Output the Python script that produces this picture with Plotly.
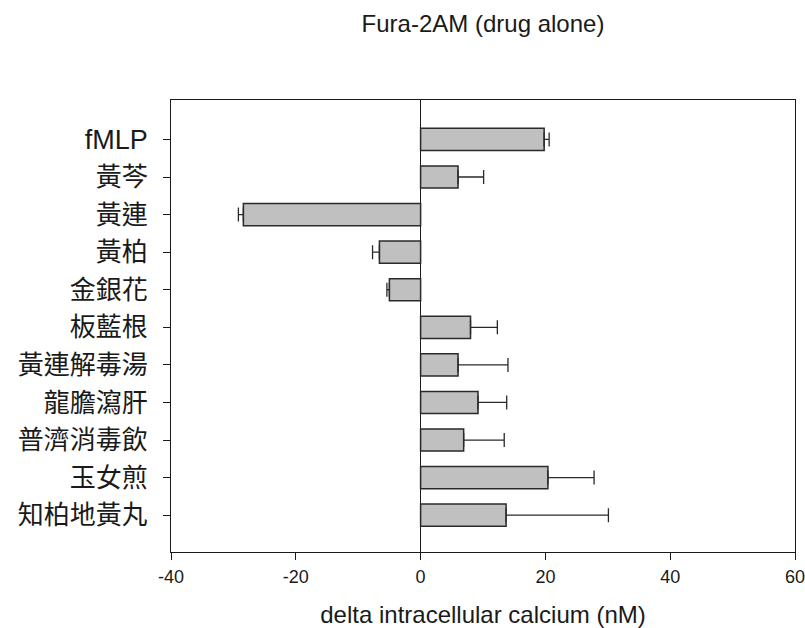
import plotly.graph_objects as go

categories = ["fMLP", "黃芩", "黃連", "黃柏", "金銀花", "板藍根",
              "黃連解毒湯", "龍膽瀉肝", "普濟消毒飲", "玉女煎", "知柏地黃丸"]
values = [19.8, 6.0, -28.4, -6.6, -5.0, 8.0, 6.0, 9.2, 6.9, 20.4, 13.7]
errors = [0.8, 4.1, 0.8, 1.1, 0.4, 4.3, 8.0, 4.6, 6.5, 7.4, 16.4]
x_ticks = [-40, -20, 0, 20, 40, 60]

err_plus = [e if v >= 0 else 0 for v, e in zip(values, errors)]
err_minus = [e if v < 0 else 0 for v, e in zip(values, errors)]

ticktext = []
for c in categories:
    if c == "fMLP":
        ticktext.append('<span style="font-family:Liberation Sans, Arial;font-size:27px">' + c + '</span>')
    else:
        ticktext.append(c)

fig = go.Figure(go.Bar(
    x=values,
    y=categories,
    orientation="h",
    marker=dict(color="#c0c0c0", line=dict(color="#2a2a2a", width=1.5)),
    error_x=dict(type="data", symmetric=False, array=err_plus, arrayminus=err_minus,
                 color="#2a2a2a", thickness=1.3, width=7),
    width=0.59,
))

fig.update_layout(
    width=805, height=628,
    margin=dict(l=171, r=10, t=100, b=76),
    paper_bgcolor="white", plot_bgcolor="white",
    showlegend=False,
    title=dict(text="Fura-2AM (drug alone)", xref="container", x=483 / 805,
               xanchor="center", yref="container", y=1 - 23.5 / 628, yanchor="middle",
               font=dict(family="Liberation Sans, Arial", size=24, color="#1a1a1a")),
    font=dict(family="Liberation Sans, Arial", color="#1a1a1a"),
)

fig.update_xaxes(
    range=[-40, 60], tickvals=x_ticks, ticktext=[str(t) for t in x_ticks],
    showline=True, mirror=True, linecolor="#1a1a1a", linewidth=1.2,
    ticks="outside", ticklen=7, tickcolor="#1a1a1a", tickwidth=1.2,
    showgrid=False, zeroline=True, zerolinecolor="#1a1a1a", zerolinewidth=1.2,
    tickfont=dict(family="Liberation Sans, Arial", size=18, color="#1a1a1a"),
    ticklabelstandoff=1, automargin=False, ticklabeloverflow="allow",
    title=dict(text="delta intracellular calcium (nM)", standoff=23,
               font=dict(family="Liberation Sans, Arial", size=24, color="#1a1a1a")),
)
fig.update_yaxes(
    type="category", categoryorder="array", categoryarray=categories,
    tickvals=categories, ticktext=ticktext,
    range=[10.98, -1.05],
    showline=True, mirror=True, linecolor="#1a1a1a", linewidth=1.2,
    ticks="outside", ticklen=7, tickcolor="#1a1a1a", tickwidth=1.2,
    showgrid=False, automargin=False, ticklabeloverflow="allow",
    tickfont=dict(family="Noto Sans CJK TC", size=26, color="#1a1a1a"),
    ticklabelstandoff=10,
)

fig.write_html("out.html")
